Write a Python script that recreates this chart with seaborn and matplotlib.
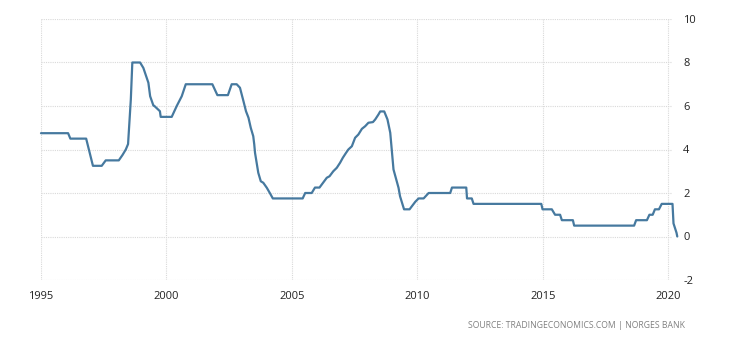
import matplotlib
matplotlib.use("Agg")
import matplotlib.pyplot as plt
import seaborn as sns
import pandas as pd

years = [1995.0, 1996.08, 1996.17, 1996.8, 1997.07, 1997.42, 1997.58, 1998.1, 1998.25, 1998.38,
         1998.47, 1998.58, 1998.64, 1998.95, 1999.08, 1999.28, 1999.35, 1999.48, 1999.52, 1999.74,
         1999.77, 2000.21, 2000.41, 2000.61, 2000.77, 2001.83, 2002.03, 2002.45, 2002.6, 2002.8,
         2002.93, 2003.07, 2003.17, 2003.27, 2003.36, 2003.46, 2003.5, 2003.53, 2003.66, 2003.76,
         2003.86, 2004.0, 2004.13, 2004.24,
         2005.43, 2005.53, 2005.79, 2005.92, 2006.1, 2006.19, 2006.39, 2006.5, 2006.65, 2006.79,
         2006.92, 2007.03, 2007.16, 2007.25, 2007.39, 2007.52, 2007.65, 2007.79, 2007.92, 2008.05,
         2008.23, 2008.32, 2008.45, 2008.52, 2008.68, 2008.81, 2008.92, 2009.05, 2009.25, 2009.31,
         2009.47, 2009.69, 2009.92, 2010.05, 2010.25, 2010.45,
         2011.31, 2011.38, 2011.95, 2011.98, 2012.17, 2012.24, 2014.94, 2014.99, 2015.36, 2015.49,
         2015.69, 2015.76, 2016.2, 2016.25, 2018.64, 2018.72, 2019.15, 2019.25, 2019.38, 2019.47,
         2019.63, 2019.74, 2020.17, 2020.21, 2020.33, 2020.36]
rates = [4.75, 4.75, 4.5, 4.5, 3.25, 3.25, 3.5, 3.5, 3.75, 4.0,
         4.25, 6.3, 8.0, 8.0, 7.75, 7.07, 6.45, 6.02, 6.0, 5.76,
         5.5, 5.5, 6.0, 6.45, 7.0, 7.0, 6.5, 6.5, 7.0, 7.0,
         6.84, 6.22, 5.76, 5.46, 5.0, 4.61, 4.23, 3.85, 2.93, 2.54,
         2.47, 2.24, 1.98, 1.75,
         1.75, 2.0, 2.0, 2.25, 2.25, 2.39, 2.7, 2.77, 3.0, 3.16,
         3.39, 3.62, 3.85, 4.0, 4.15, 4.54, 4.69, 4.95, 5.07, 5.23,
         5.26, 5.38, 5.61, 5.75, 5.75, 5.38, 4.77, 3.08, 2.24, 1.85,
         1.25, 1.25, 1.6, 1.75, 1.75, 2.0,
         2.0, 2.25, 2.25, 1.75, 1.75, 1.5, 1.5, 1.25, 1.25, 1.0,
         1.0, 0.75, 0.75, 0.5, 0.5, 0.75, 0.75, 1.0, 1.0, 1.25,
         1.25, 1.5, 1.5, 0.6, 0.17, 0.0]
x_ticks = [1995, 2000, 2005, 2010, 2015, 2020]
y_ticks = [-2, 0, 2, 4, 6, 8, 10]
source_text = "SOURCE: TRADINGECONOMICS.COM | NORGES BANK"

df = pd.DataFrame({"year": years, "rate": rates})

sns.set_style("white")
plt.rcParams["font.family"] = ["Open Sans", "DejaVu Sans"]

fig = plt.figure(figsize=(7.3, 3.4), dpi=100)
ax = fig.add_axes([41 / 730, 60 / 340, (672 - 41) / 730, (280 - 19) / 340])

sns.lineplot(data=df, x="year", y="rate", ax=ax, estimator=None, sort=False,
             color="#46799f", linewidth=1.6, clip_on=False, zorder=5)

ax.set_xlim(1995, 2020.15)
ax.set_ylim(-2, 10)
ax.set_xticks(x_ticks)
ax.set_yticks(y_ticks)
ax.set_xticklabels([str(t) for t in x_ticks])
ax.set_yticklabels([str(t) for t in y_ticks])
ax.yaxis.tick_right()
ax.tick_params(axis="both", length=0, labelsize=8, colors="#222222")
ax.tick_params(axis="y", pad=8)
ax.tick_params(axis="x", pad=8)
ax.set_xlabel("")
ax.set_ylabel("")

ax.grid(True, which="major", axis="both", color="#d9d9d9", linestyle=(0, (1, 1)), linewidth=0.8)
for s in ax.spines.values():
    s.set_visible(False)

fig.text(685 / 730, 1 - 325 / 340, source_text, ha="right", va="center",
         fontsize=6.2, color="#808080")

fig.savefig("out.png", dpi=100)
